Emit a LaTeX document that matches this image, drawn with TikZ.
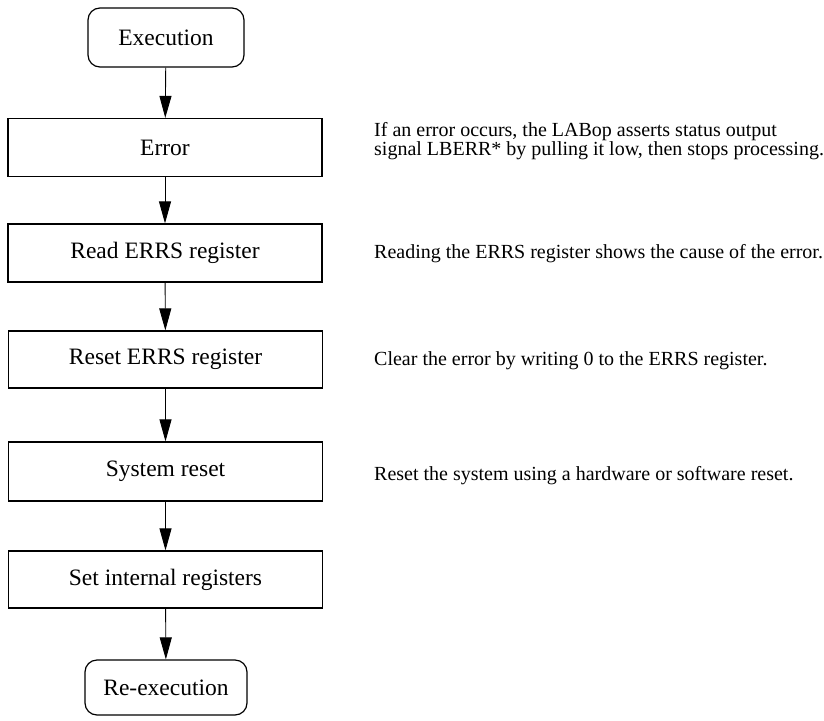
\documentclass[tikz,border=0pt]{standalone}
\usepackage{fontspec}
\setmainfont{Liberation Serif}
\usetikzlibrary{arrows.meta}
\begin{document}
\begin{tikzpicture}[x=1pt,y=-1pt,
  stepbox/.style={draw, line width=1.2pt, minimum width=314pt, minimum height=58pt, inner sep=0pt, font=\fontsize{23.5}{26}\selectfont},
  termbox/.style={draw, line width=1.2pt, rounded corners=12pt, inner sep=0pt, minimum height=59pt, font=\fontsize{23.5}{26}\selectfont},
  desc/.style={anchor=west, align=left, inner sep=0pt, font=\fontsize{20}{16}\selectfont},
  flow/.style={line width=0.9pt, -{Triangle[length=22pt,width=12pt]}}]
\useasboundingbox (0,0) rectangle (824,720);
\node[termbox, minimum width=156pt] (exec) at (166,37.5) {Execution};
\node[stepbox] (err) at (165,147.5) {Error};
\node[stepbox] (read) at (165,253) {Read ERRS register};
\node[stepbox, minimum height=57pt] (reset) at (165.5,359.5) {Reset ERRS register};
\node[stepbox, minimum height=59pt] (sys) at (165.5,471.5) {System reset};
\node[stepbox, minimum height=57pt] (set) at (165.5,579.5) {Set internal registers};
\node[termbox, minimum width=162pt, minimum height=55pt] (reexec) at (166,687.5) {Re-execution};
\draw[flow] (exec) -- (err);
\draw[flow] (err) -- (read);
\draw[flow] (read) -- (reset);
\draw[flow] (reset) -- (sys);
\draw[flow] (sys) -- (set);
\draw[flow] (set) -- (reexec);
\node[desc] (d1) at (374,141) {If an error occurs, the LABop asserts status output\\signal LBERR* by pulling it low, then stops processing.};
\node[desc] (d2) at (374,254) {Reading the ERRS register shows the cause of the error.};
\node[desc] (d3) at (374,361) {Clear the error by writing 0 to the ERRS register.};
\node[desc] (d4) at (374,476) {Reset the system using a hardware or software reset.};
\end{tikzpicture}
\end{document}
